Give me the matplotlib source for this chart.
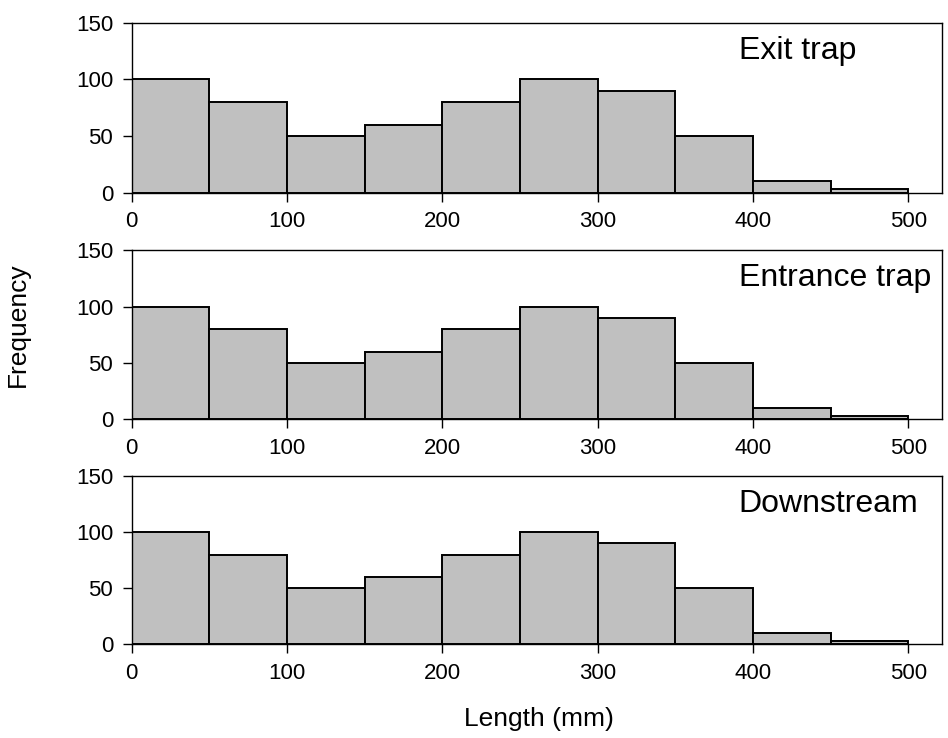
import matplotlib
matplotlib.use('Agg')
import matplotlib.pyplot as plt

plt.rcParams['font.family'] = ['Liberation Sans', 'DejaVu Sans']

bin_edges = [0, 50, 100, 150, 200, 250, 300, 350, 400, 450, 500]
counts = [100, 80, 50, 60, 80, 100, 90, 50, 10, 3]
panel_titles = ['Exit trap', 'Entrance trap', 'Downstream']

fig = plt.figure(figsize=(9.48, 7.38), dpi=100)
# axes boxes in figure fractions (left, bottom, width, height)
boxes = [(0.139, 0.739, 0.855, 0.230),
         (0.139, 0.432, 0.855, 0.229),
         (0.139, 0.127, 0.855, 0.228)]

lefts = bin_edges[:-1]
widths = [b - a for a, b in zip(bin_edges[:-1], bin_edges[1:])]

for box, title in zip(boxes, panel_titles):
    ax = fig.add_axes(box)
    ax.bar(lefts, counts, width=widths, align='edge', color='#c0c0c0',
           edgecolor='black', linewidth=1.4)
    ax.set_xlim(0, 522)
    ax.set_ylim(0, 150)
    ax.set_xticks([0, 100, 200, 300, 400, 500])
    ax.set_yticks([0, 50, 100, 150])
    ax.tick_params(direction='out', length=6.5, width=1, labelsize=16, pad=7)
    for s in ax.spines.values():
        s.set_linewidth(1)
    ax.text(0.749, 0.835, title, transform=ax.transAxes, fontsize=23,
            ha='left', va='center')

fig.text(0.019, 0.56, 'Frequency', rotation=90, fontsize=19, ha='center', va='center')
fig.text(0.569, 0.026, 'Length (mm)', fontsize=19, ha='center', va='center')

fig.savefig('out.png', dpi=100)
